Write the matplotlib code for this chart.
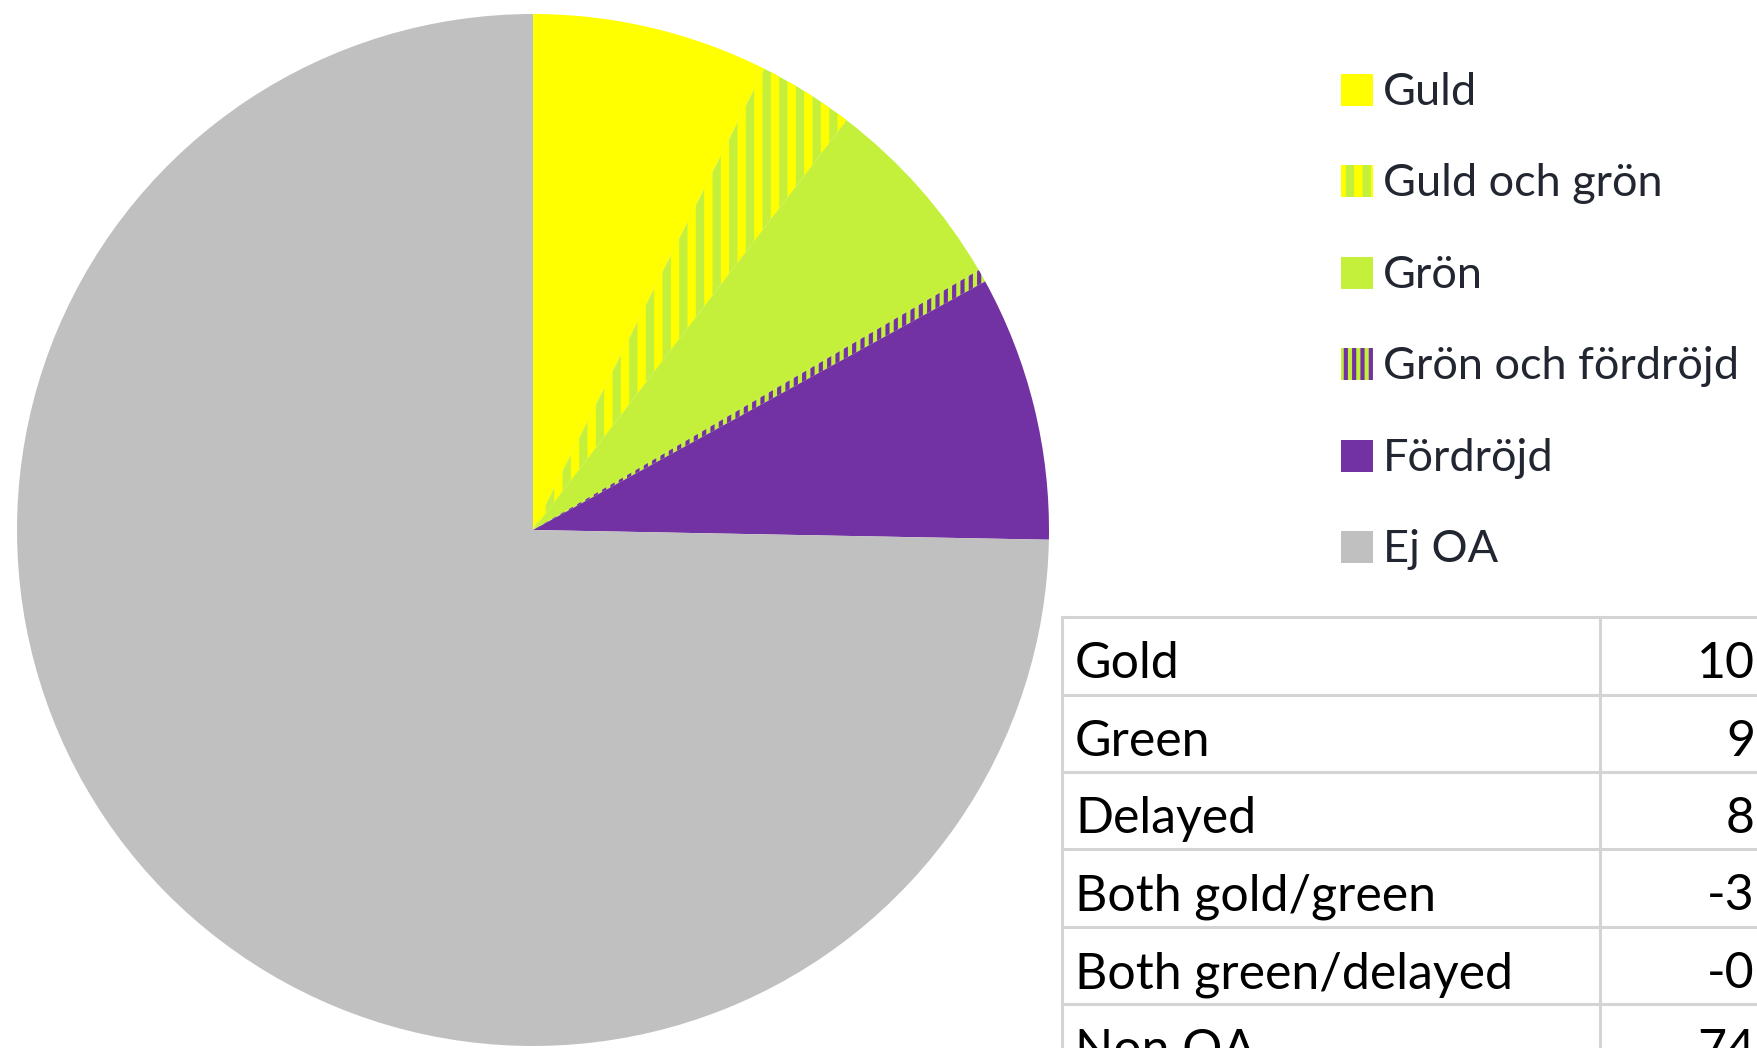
import matplotlib
matplotlib.use('Agg')
import matplotlib.pyplot as plt
from matplotlib.patches import Rectangle
from matplotlib.lines import Line2D

# 饼图数据（百分比）
labels = ['Guld', 'Guld och grön', 'Grön', 'Grön och fördröjd', 'Fördröjd', 'Ej OA']
shares = [7.4, 3.0, 6.2, 0.4, 8.3, 74.7]

# 表格数据（右边被裁掉，只看得到这部分）
table_labels = ['Gold', 'Green', 'Delayed', 'Both gold/green', 'Both green/delayed', 'Non OA']
table_values = ['10', '9', '8', '-3', '-0', '74']

# 颜色和条纹
colors = ['#FFFF00', '#C4F03C', '#C4F03C', '#C4F03C', '#7332A3', '#C0C0C0']
hatches = [None, '|', None, '||', None, None]
hatch_colors = ['none', '#FFFF00', 'none', '#7332A3', 'none', 'none']
hatch_widths = [6, 6, 6, 3, 6, 6]

plt.rcParams['hatch.linewidth'] = 6

W, H = 1757, 1048
fig = plt.figure(figsize=(W / 100, H / 100), dpi=100)


def fx(px):
    return px / W


def fy(py):
    return 1 - py / H


# 饼图
ax = fig.add_axes([fx(17), fy(1046), 1032 / W, 1032 / H])
wedges, _ = ax.pie(shares, colors=colors, startangle=90, counterclock=False,
                   radius=1, wedgeprops=dict(linewidth=0))
for w, h, ec, hw in zip(wedges, hatches, hatch_colors, hatch_widths):
    if h:
        w.set_hatch(h)
        w.set_edgecolor(ec)
        w.set_linewidth(0)
        if hasattr(w, 'set_hatch_linewidth'):
            w.set_hatch_linewidth(hw)
ax.set_xlim(-1, 1)
ax.set_ylim(-1, 1)

# 图例（手动画）
legend_font = 32.5
for i, lab in enumerate(labels):
    sq_c = 90 + 91.4 * i
    r = Rectangle((fx(1341), fy(sq_c + 16)), 32 / W, 32 / H, transform=fig.transFigure,
                  facecolor=colors[i], edgecolor=hatch_colors[i], hatch=hatches[i], linewidth=0)
    if hatches[i] and hasattr(r, 'set_hatch_linewidth'):
        r.set_hatch_linewidth(hatch_widths[i])
    fig.add_artist(r)
    fig.text(fx(1383), fy(105 + 91.4 * i), lab, fontsize=legend_font, color='#222631',
             family='Lato', va='baseline', ha='left')

# 表格
row_tops = [617, 695, 772, 849, 927, 1004]
line_kw = dict(color='#D4D4D4', linewidth=2.2, transform=fig.transFigure)
for y in row_tops:
    fig.add_artist(Line2D([fx(1062), fx(1757)], [fy(y), fy(y)], **line_kw))
for x in [1062, 1600]:
    fig.add_artist(Line2D([fx(x), fx(x)], [fy(row_tops[0]), fy(1048)], **line_kw))

table_font = 36
for i, (lab, v) in enumerate(zip(table_labels, table_values)):
    base = row_tops[i] + 61
    fig.text(fx(1075), fy(base), lab, fontsize=table_font, color='black',
             family='Lato', va='baseline', ha='left')
    fig.text(fx(1755), fy(base), v, fontsize=table_font, color='black',
             family='Lato', va='baseline', ha='right')

fig.savefig('out.png', dpi=100)
